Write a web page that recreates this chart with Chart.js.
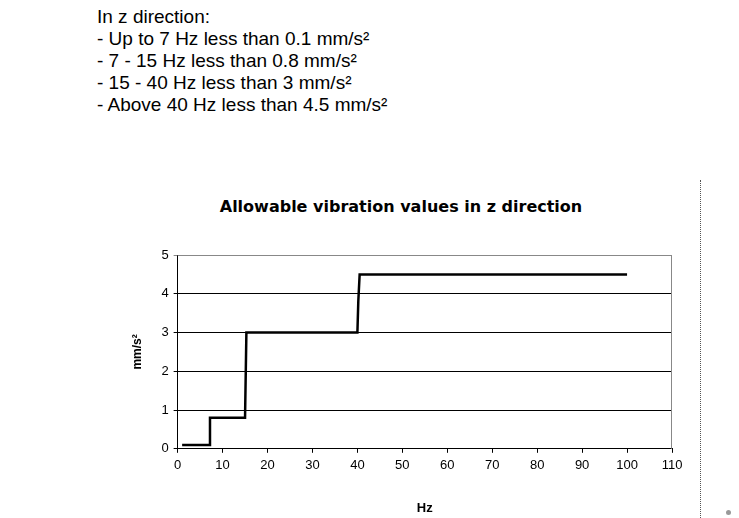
<!DOCTYPE html>
<html>
<head>
<meta charset="utf-8">
<script src="https://cdn.jsdelivr.net/npm/chart.js@4.4.1/dist/chart.umd.min.js"></script>
<style>
  body { margin: 0; background: #fff; font-family: "Liberation Sans", Arial, sans-serif; }
  #notes { position: absolute; left: 97px; top: 6px; font-size: 19px; line-height: 22px; color: #000; }
  #title { position: absolute; left: 151px; width: 500px; top: 197px; text-align: center;
           font: bold 16px "DejaVu Sans", sans-serif; color: #000; }
  #wrap { position: absolute; left: 130px; top: 185px; width: 560px; height: 333px; }
  #sep { position: absolute; left: 700px; top: 180px; height: 338px; border-left: 1px dotted #555; }
  #dot { position: absolute; left: 726px; top: 510px; width: 5px; height: 5px; border-radius: 3px; background: #999; }
</style>
</head>
<body>
<div id="notes">
  In z direction:<br>
  - Up to 7 Hz less than 0.1 mm/s²<br>
  - 7 - 15 Hz less than 0.8 mm/s²<br>
  - 15 - 40 Hz less than 3 mm/s²<br>
  - Above 40 Hz less than 4.5 mm/s²
</div>
<div id="title">Allowable vibration values in z direction</div>
<div id="sep"></div>
<div id="dot"></div>
<div id="wrap"><canvas id="c"></canvas></div>
<script>
// step curve
const freqHz = [1, 7, 7.2, 15, 15.3, 40, 40.2, 40.5, 100];
const accel  = [0.1, 0.1, 0.8, 0.8, 3.0, 3.0, 3.8, 4.5, 4.5];
const xTicks = [0, 10, 20, 30, 40, 50, 60, 70, 80, 90, 100, 110];
const yTicks = [0, 1, 2, 3, 4, 5];

const points = freqHz.map((x, i) => ({ x, y: accel[i] }));
const FONT = '"Liberation Sans", Arial, sans-serif';

// gray frame around the plot area
const frame = {
  id: 'frame',
  beforeDatasetsDraw(chart) {
    const a = chart.chartArea, c = chart.ctx;
    c.save();
    c.strokeStyle = '#888';
    c.lineWidth = 1;
    c.beginPath();
    c.moveTo(a.left, a.top + 0.5);
    c.lineTo(a.right - 0.5, a.top + 0.5);
    c.lineTo(a.right - 0.5, a.bottom);
    c.stroke();
    c.restore();
  }
};

new Chart(document.getElementById('c'), {
  type: 'scatter',
  data: {
    datasets: [{
      data: points,
      showLine: true,
      borderColor: '#000',
      borderWidth: 2.5,
      pointRadius: 0,
      tension: 0
    }]
  },
  options: {
    responsive: true,
    maintainAspectRatio: false,
    animation: false,
    layout: { padding: { left: 0, right: 18, top: 70, bottom: 2 } },
    plugins: {
      legend: { display: false },
      tooltip: { enabled: false }
    },
    scales: {
      x: {
        type: 'linear',
        min: 0, max: 110,
        afterBuildTicks: s => { s.ticks = xTicks.map(v => ({ value: v })); },
        ticks: { color: '#000', font: { size: 13, family: FONT }, padding: 5 },
        grid: { drawOnChartArea: false, color: '#000', tickLength: 4 },
        border: { color: '#000' },
        title: {
          display: true, text: 'Hz', color: '#000',
          font: { size: 13, weight: 'bold', family: FONT },
          padding: { top: 22, bottom: 0 }
        }
      },
      y: {
        min: 0, max: 5,
        afterBuildTicks: s => { s.ticks = yTicks.map(v => ({ value: v })); },
        ticks: { color: '#000', font: { size: 13, family: FONT }, padding: 5 },
        grid: { color: ctx => ctx.tick && ctx.tick.value === 5 ? '#888' : '#000', tickLength: 4 },
        border: { color: '#000' },
        title: {
          display: true, text: 'mm/s²', color: '#000',
          font: { size: 12, weight: 'bold', family: FONT },
          padding: { top: 0, bottom: 12 }
        }
      }
    }
  },
  plugins: [frame]
});
</script>
</body>
</html>
